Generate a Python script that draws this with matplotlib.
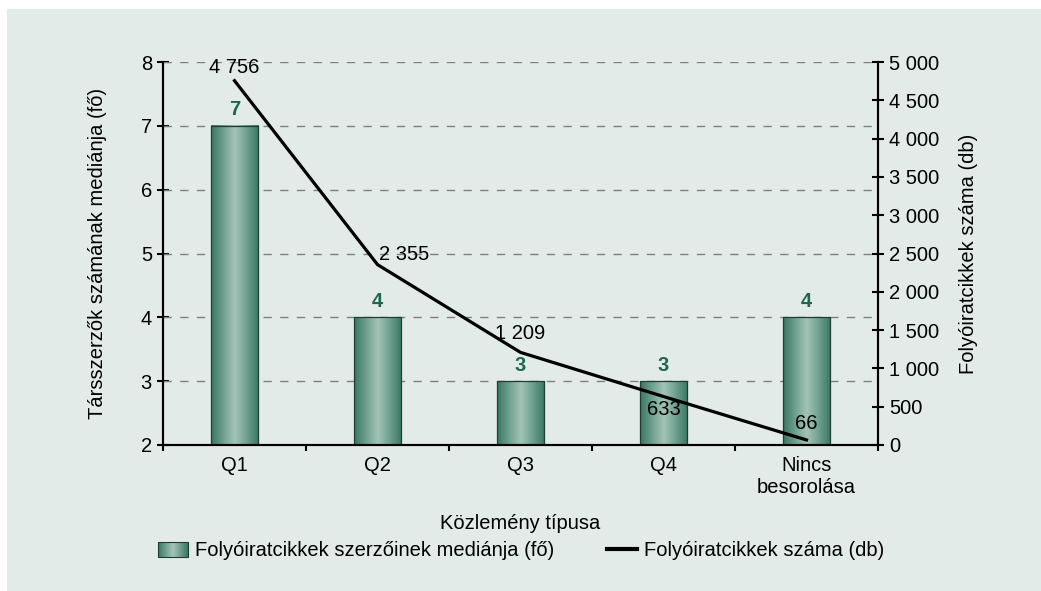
import matplotlib.pyplot as plt
import numpy as np
from matplotlib.patches import Rectangle
from matplotlib.legend_handler import HandlerBase
from matplotlib.lines import Line2D
from matplotlib.colors import LinearSegmentedColormap

plt.rcParams['font.family'] = ['Liberation Sans', 'DejaVu Sans']

categories = ['Q1', 'Q2', 'Q3', 'Q4', 'Nincs\nbesorolása']
median_authors = [7, 4, 3, 3, 4]
article_counts = [4756, 2355, 1209, 633, 66]

bg = '#e3ebe8'
fs = 14.5
cmap = LinearSegmentedColormap.from_list(
    'bar', ['#3b7764', '#6fa08f', '#a3c4b8', '#6fa08f', '#3b7764'])

fig = plt.figure(figsize=(10.41, 5.91), dpi=100)
fig.patch.set_facecolor('white')
fig.patches.append(Rectangle((7 / 1041, 0), 1, 1 - 9 / 591, transform=fig.transFigure,
                             facecolor=bg, edgecolor='none', zorder=-10))

ax = fig.add_axes([163 / 1041, 1 - 445 / 591, 715 / 1041, 383 / 591])
ax.patch.set_visible(False)
ax2 = ax.twinx()

x = np.arange(len(categories))
w = 0.33
grad = cmap(np.linspace(0, 1, 64)).reshape(1, 64, 4)
for xi, v in zip(x, median_authors):
    ax.imshow(grad, extent=[xi - w / 2, xi + w / 2, 2, v], aspect='auto', zorder=2)
    ax.add_patch(Rectangle((xi - w / 2, 2), w, v - 2, facecolor='none',
                           edgecolor='#1e3d33', linewidth=0.9, zorder=3))
    ax.annotate(str(v), (xi, v), xytext=(0, 11.5), textcoords='offset points',
                ha='center', va='center', color='#1f6650',
                fontsize=fs, fontweight='bold', zorder=4)

ax.set_xlim(-0.5, len(categories) - 0.5)
ax.set_ylim(2, 8)
ax.set_yticks(range(2, 9))
ax.set_axisbelow(True)
for yv in range(3, 9):
    ax.axhline(yv, color='#7f7f7f', linewidth=1, linestyle=(0, (6, 6)), zorder=1)

ax.set_xticks(np.arange(-0.5, len(categories), 1.0))
ax.set_xticklabels([])
ax.set_xticks(x, minor=True)
ax.set_xticklabels(categories, minor=True, fontsize=fs)
ax.tick_params(axis='x', which='minor', length=0, pad=8)
ax.tick_params(axis='x', which='major', direction='out', length=4, width=1.5)
ax.tick_params(axis='y', direction='inout', length=8, width=1.5, labelsize=fs, pad=4)

ax2.plot(x, article_counts, color='black', linewidth=2.3, zorder=5)
ax2.set_ylim(0, 5000)
ax2.set_yticks(range(0, 5001, 500))
ax2.set_yticklabels([f'{v:,}'.replace(',', ' ') for v in range(0, 5001, 500)])
ax2.tick_params(axis='y', direction='inout', length=8, width=1.5, labelsize=fs, pad=4)

offsets = [(0, 9.5), (19, 7), (0, 13.5), (0, -9.5), (0, 11.5)]
for xi, v, off in zip(x, article_counts, offsets):
    ax2.annotate(f'{v:,}'.replace(',', ' '), (xi, v), xytext=off, textcoords='offset points',
                 ha='center', va='center', fontsize=fs, zorder=6)

for a in (ax, ax2):
    for s in a.spines.values():
        s.set_linewidth(1.5)
    a.spines['top'].set_visible(False)

ax.set_ylabel('Társszerzők számának mediánja (fő)', fontsize=fs, labelpad=24)
ax2.set_ylabel('Folyóiratcikkek száma (db)', fontsize=fs, labelpad=14)
ax.set_xlabel('Közlemény típusa', fontsize=fs, labelpad=12)


class GradientHandler(HandlerBase):
    def create_artists(self, legend, orig_handle, xdescent, ydescent, width, height,
                       fontsize, trans):
        n = 30
        arts = []
        for i in range(n):
            arts.append(Rectangle((-xdescent + width * i / n, -ydescent), width / n + 0.2, height,
                                  facecolor=cmap(i / (n - 1)), edgecolor='none',
                                  transform=trans))
        arts.append(Rectangle((-xdescent, -ydescent), width, height, facecolor='none',
                              edgecolor='#1e3d33', linewidth=0.8, transform=trans))
        return arts


bar_handle = Rectangle((0, 0), 1, 1)
line_handle = Line2D([], [], color='black', linewidth=3)
fig.legend([bar_handle, line_handle],
           ['Folyóiratcikkek szerzőinek mediánja (fő)', 'Folyóiratcikkek száma (db)'],
           handler_map={Rectangle: GradientHandler()},
           loc='center', bbox_to_anchor=(521 / 1041, 1 - 551 / 591), ncol=2, frameon=False,
           fontsize=fs, columnspacing=2.6, handlelength=1.5, handletextpad=0.35)

fig.savefig('out.png', dpi=100)
